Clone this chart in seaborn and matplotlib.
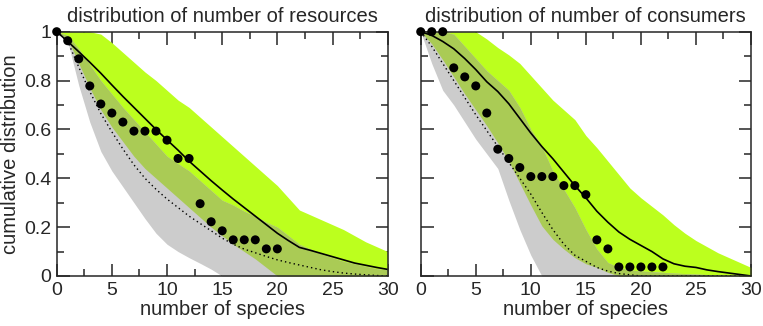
import numpy as np
import matplotlib
matplotlib.use("Agg")
import matplotlib.pyplot as plt
from matplotlib.ticker import MultipleLocator, FuncFormatter
import seaborn as sns

# Species counts on the x axis
species = list(range(31))

# Left panel: number of resources
res_solid = [1.0, 0.96, 0.918, 0.875, 0.83, 0.782, 0.735, 0.69, 0.645, 0.6, 0.557, 0.515, 0.47, 0.43, 0.39, 0.352,
             0.315, 0.28, 0.245, 0.21, 0.175, 0.145, 0.117, 0.105, 0.092, 0.079, 0.066, 0.053, 0.044, 0.035, 0.027]
res_dotted = [1.0, 0.96, 0.855, 0.755, 0.665, 0.59, 0.52, 0.455, 0.40, 0.355, 0.315, 0.28, 0.245, 0.215, 0.185, 0.155,
              0.13, 0.11, 0.095, 0.08, 0.066, 0.055, 0.045, 0.035, 0.025, 0.018, 0.012, 0.008, 0.005, 0.002, 0.0]
res_green_hi = [1.0, 1.0, 1.0, 1.0, 0.99, 0.955, 0.915, 0.875, 0.835, 0.80, 0.76, 0.72, 0.69, 0.65, 0.61, 0.57,
                0.53, 0.49, 0.45, 0.41, 0.37, 0.32, 0.27, 0.25, 0.23, 0.21, 0.19, 0.165, 0.14, 0.12, 0.10]
res_green_lo = [1.0, 0.97, 0.87, 0.77, 0.68, 0.61, 0.55, 0.49, 0.44, 0.40, 0.36, 0.32, 0.28, 0.24, 0.20, 0.165,
                0.13, 0.10, 0.07, 0.035, 0.0, 0, 0, 0, 0, 0, 0, 0, 0, 0, 0]
res_grey_hi = [1.0, 0.985, 0.93, 0.865, 0.80, 0.745, 0.69, 0.64, 0.59, 0.54, 0.49, 0.46, 0.43, 0.39, 0.35, 0.31,
               0.29, 0.265, 0.245, 0.22, 0.2, 0.165, 0.13, 0.11, 0.09, 0.075, 0.06, 0.05, 0.04, 0.03, 0.025]
res_grey_lo = [1.0, 0.96, 0.78, 0.63, 0.51, 0.43, 0.365, 0.3, 0.235, 0.175, 0.13, 0.1, 0.075, 0.052, 0.028, 0.0,
               0, 0, 0, 0, 0, 0, 0, 0, 0, 0, 0, 0, 0, 0, 0]
res_pts_x = list(range(21))
res_pts = [1.0, 0.963, 0.889, 0.778, 0.704, 0.667, 0.630, 0.593, 0.593, 0.593, 0.556, 0.481, 0.481, 0.296,
           0.222, 0.185, 0.148, 0.148, 0.148, 0.111, 0.111]

# Right panel: number of consumers
con_solid = [1.0, 0.985, 0.96, 0.93, 0.89, 0.845, 0.795, 0.755, 0.705, 0.645, 0.585, 0.53, 0.48, 0.425, 0.37, 0.32,
             0.265, 0.22, 0.18, 0.15, 0.125, 0.1, 0.07, 0.05, 0.04, 0.035, 0.025, 0.018, 0.012, 0.006, 0.0]
con_dotted = [1.0, 0.94, 0.87, 0.80, 0.73, 0.66, 0.595, 0.53, 0.465, 0.40, 0.335, 0.26, 0.19, 0.13, 0.085, 0.06,
              0.035, 0.02, 0.01, 0.005, 0.0, 0, 0, 0, 0, 0, 0, 0, 0, 0, 0]
con_green_hi = [1.0, 1.0, 1.0, 1.0, 1.0, 1.0, 0.97, 0.935, 0.905, 0.87, 0.82, 0.77, 0.72, 0.68, 0.64, 0.575,
                0.525, 0.47, 0.415, 0.36, 0.32, 0.285, 0.25, 0.21, 0.175, 0.145, 0.12, 0.095, 0.075, 0.055, 0.035]
con_green_lo = [1.0, 0.95, 0.885, 0.815, 0.745, 0.68, 0.615, 0.545, 0.47, 0.38, 0.29, 0.205, 0.15, 0.11, 0.075, 0.05,
                0.035, 0.015, 0.0, 0, 0, 0, 0, 0, 0, 0, 0, 0, 0, 0, 0]
con_grey_hi = [1.0, 1.0, 1.0, 0.99, 0.94, 0.89, 0.84, 0.80, 0.76, 0.69, 0.6, 0.53, 0.43, 0.355, 0.28, 0.19,
               0.11, 0.055, 0.035, 0.025, 0.02, 0.018, 0.015, 0.012, 0.01, 0.008, 0.006, 0.004, 0.002, 0.001, 0.0]
con_grey_lo = [1.0, 0.87, 0.76, 0.70, 0.63, 0.56, 0.50, 0.44, 0.31, 0.19, 0.085, 0.0,
               0, 0, 0, 0, 0, 0, 0, 0, 0, 0, 0, 0, 0, 0, 0, 0, 0, 0, 0]
con_pts_x = list(range(23))
con_pts = [1.0, 1.0, 1.0, 0.852, 0.815, 0.778, 0.667, 0.519, 0.481, 0.444, 0.407, 0.407, 0.407, 0.370, 0.370,
           0.333, 0.148, 0.111, 0.037, 0.037, 0.037, 0.037, 0.037]

GREEN = "#bcff1e"
GREY = "#cccccc"
OLIVE = "#aacb55"

sns.set_style("ticks")
plt.rcParams["font.family"] = ["Liberation Sans", "DejaVu Sans"]
plt.rcParams["font.size"] = 14


def draw_panel(ax, g_lo, g_hi, r_lo, r_hi, solid, dotted, px, py, title):
    x = np.array(species)
    g_lo, g_hi, r_lo, r_hi = map(np.array, (g_lo, g_hi, r_lo, r_hi))
    ax.fill_between(x, g_lo, g_hi, color = GREEN, lw = 0)
    ax.fill_between(x, r_lo, r_hi, color = GREY, lw = 0)
    lo = np.maximum(g_lo, r_lo)
    hi = np.minimum(g_hi, r_hi)
    ax.fill_between(x, lo, hi, where = hi > lo, interpolate = True, color = OLIVE, lw = 0)

    sns.lineplot(x = species, y = solid, ax = ax, color = "black", lw = 1.2)
    sns.lineplot(x = species, y = dotted, ax = ax, color = "black", lw = 1.0, linestyle = (0, (1, 2.2)))
    sns.scatterplot(x = px, y = py, ax = ax, color = "black", s = 42, edgecolor = "none", zorder = 5, clip_on = False)

    ax.set_xlim(0, 30)
    ax.set_ylim(0, 1)
    ax.xaxis.set_major_locator(MultipleLocator(5))
    ax.xaxis.set_minor_locator(MultipleLocator(2.5))
    ax.yaxis.set_major_locator(MultipleLocator(0.2))
    ax.yaxis.set_minor_locator(MultipleLocator(0.1))
    ax.yaxis.set_major_formatter(FuncFormatter(lambda v, p: f"{v:g}"))
    ax.tick_params(which = "both", direction = "in", top = True, right = True, width = 1.1, labelsize = 14, pad = 4)
    ax.tick_params(which = "major", length = 9)
    ax.tick_params(which = "minor", length = 4.7)
    for s in ax.spines.values():
        s.set_linewidth(1.1)
    ax.set_title(title, fontsize = 14.5, pad = 7)
    ax.set_xlabel("number of species", fontsize = 14.5, labelpad = 1)


fig = plt.figure(figsize = (7.63, 3.26), dpi = 100)
ax1 = fig.add_axes([0.0743, 0.1534, 0.4338, 0.7494])
ax2 = fig.add_axes([0.5514, 0.1534, 0.4329, 0.7494])

draw_panel(ax1, res_green_lo, res_green_hi, res_grey_lo, res_grey_hi, res_solid, res_dotted,
           res_pts_x, res_pts, "distribution of number of resources")
draw_panel(ax2, con_green_lo, con_green_hi, con_grey_lo, con_grey_hi, con_solid, con_dotted,
           con_pts_x, con_pts, "distribution of number of consumers")

ax1.set_ylabel("cumulative distribution", fontsize = 14.5, labelpad = 3)
ax2.tick_params(labelleft = False)
ax2.set_ylabel("")

fig.savefig("out.png", dpi = 100)
